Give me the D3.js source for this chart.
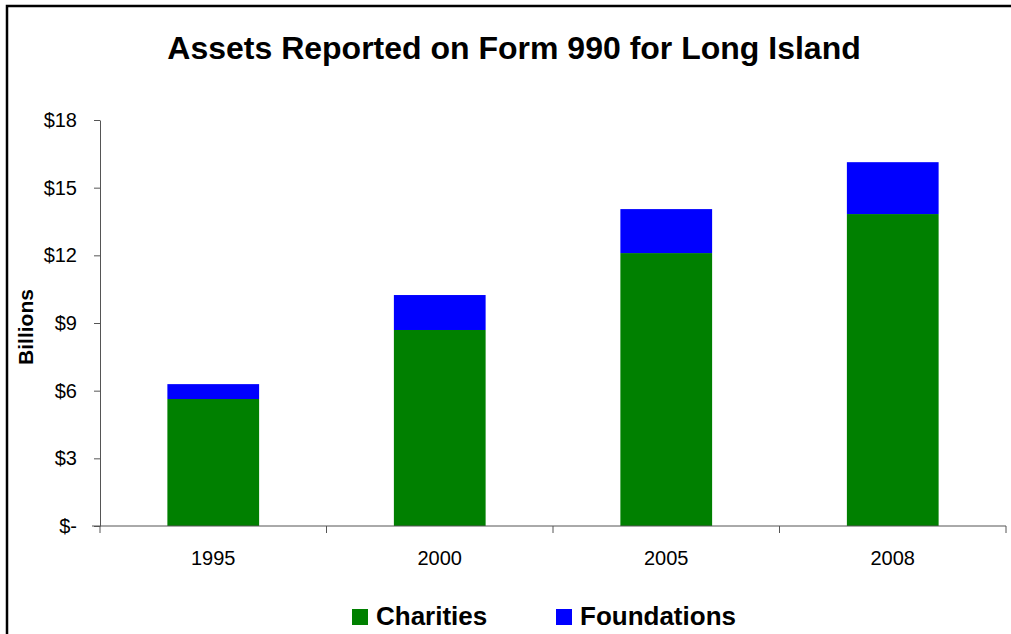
<!DOCTYPE html>
<html>
<head>
<meta charset="utf-8">
<script src="https://cdn.jsdelivr.net/npm/d3@7"></script>
<style>
  body { margin: 0; background: #fff; }
  svg { display: block; font-family: "Liberation Sans", Arial, sans-serif; }
</style>
</head>
<body>
<svg id="chart"></svg>
<script>
var years = ["1995", "2000", "2005", "2008"];
var charities = [5.63, 8.69, 12.10, 13.83];
var foundations = [0.66, 1.55, 1.95, 2.30];
var yTicks = [0, 3, 6, 9, 12, 15, 18];

var width = 1011,
  height = 634;

var svg = d3.select("#chart")
  .attr("width", width)
  .attr("height", height);

// frame (top and left edges visible)
svg.append("path")
  .attr("d", "M 7 " + height + " L 7 6 L " + width + " 6")
  .attr("fill", "none")
  .attr("stroke", "#000")
  .attr("stroke-width", 2.5);

svg.append("text")
  .attr("x", 514)
  .attr("y", 59)
  .attr("text-anchor", "middle")
  .attr("font-size", 32)
  .attr("font-weight", "bold")
  .text("Assets Reported on Form 990 for Long Island");

var plotLeft = 100, plotRight = 1006, plotTop = 120, plotBottom = 526;

var x = d3.scaleBand()
  .domain(years)
  .range([plotLeft, plotRight])
  .paddingInner(0.595)
  .paddingOuter(0.2975);

var y = d3.scaleLinear()
  .domain([0, 18])
  .range([plotBottom, plotTop]);

var stackData = years.map(function(yr, i) {
  return { year: yr, charities: charities[i], foundations: foundations[i] };
});
var series = d3.stack().keys(["charities", "foundations"])(stackData);
var colors = { charities: "#008000", foundations: "#0000ff" };

svg.selectAll(".series").data(series)
  .enter().append("g")
  .attr("class", "series")
  .attr("fill", function(d) { return colors[d.key]; })
  .selectAll("rect").data(function(d) { return d; })
  .enter().append("rect")
  .attr("x", function(d) { return x(d.data.year); })
  .attr("width", x.bandwidth())
  .attr("y", function(d) { return y(d[1]); })
  .attr("height", function(d) { return y(d[0]) - y(d[1]); });

// y axis
var yAxis = d3.axisLeft(y)
  .tickValues(yTicks)
  .tickSize(6)
  .tickSizeOuter(0)
  .tickFormat(function(d) { return d === 0 ? "$-" : "$" + d; });

var gy = svg.append("g")
  .attr("transform", "translate(" + plotLeft + ",0)")
  .call(yAxis);
gy.selectAll("text")
  .attr("font-size", 20)
  .attr("font-family", "Liberation Sans, Arial, sans-serif")
  .attr("fill", "#000")
  .attr("x", -23);
gy.selectAll("line, path").attr("stroke", "#555");

// x axis with ticks at category boundaries
var gx = svg.append("g")
  .attr("transform", "translate(0," + plotBottom + ")");
gx.append("line")
  .attr("x1", plotLeft - 8).attr("x2", plotRight)
  .attr("stroke", "#555");
var step = x.step();
var bounds = d3.range(years.length + 1).map(function(i) { return plotLeft + i * step; });
gx.selectAll(".xtick").data(bounds)
  .enter().append("line")
  .attr("class", "xtick")
  .attr("x1", function(d) { return d; })
  .attr("x2", function(d) { return d; })
  .attr("y1", 0).attr("y2", 7)
  .attr("stroke", "#555");
gx.selectAll(".xlabel").data(years)
  .enter().append("text")
  .attr("class", "xlabel")
  .attr("x", function(d) { return x(d) + x.bandwidth() / 2; })
  .attr("y", 39)
  .attr("text-anchor", "middle")
  .attr("font-size", 20)
  .text(function(d) { return d; });

svg.append("text")
  .attr("transform", "translate(33,327) rotate(-90)")
  .attr("text-anchor", "middle")
  .attr("font-size", 21)
  .attr("font-weight", "bold")
  .text("Billions");

// legend
var legendItems = [
  { key: "charities", label: "Charities", x: 352 },
  { key: "foundations", label: "Foundations", x: 556 }
];
var lg = svg.selectAll(".legend").data(legendItems)
  .enter().append("g")
  .attr("class", "legend")
  .attr("transform", function(d) { return "translate(" + d.x + ",609)"; });
lg.append("rect")
  .attr("width", 16).attr("height", 16)
  .attr("fill", function(d) { return colors[d.key]; });
lg.append("text")
  .attr("x", 24)
  .attr("y", 16)
  .attr("font-size", 26)
  .attr("font-weight", "bold")
  .text(function(d) { return d.label; });
</script>
</body>
</html>
